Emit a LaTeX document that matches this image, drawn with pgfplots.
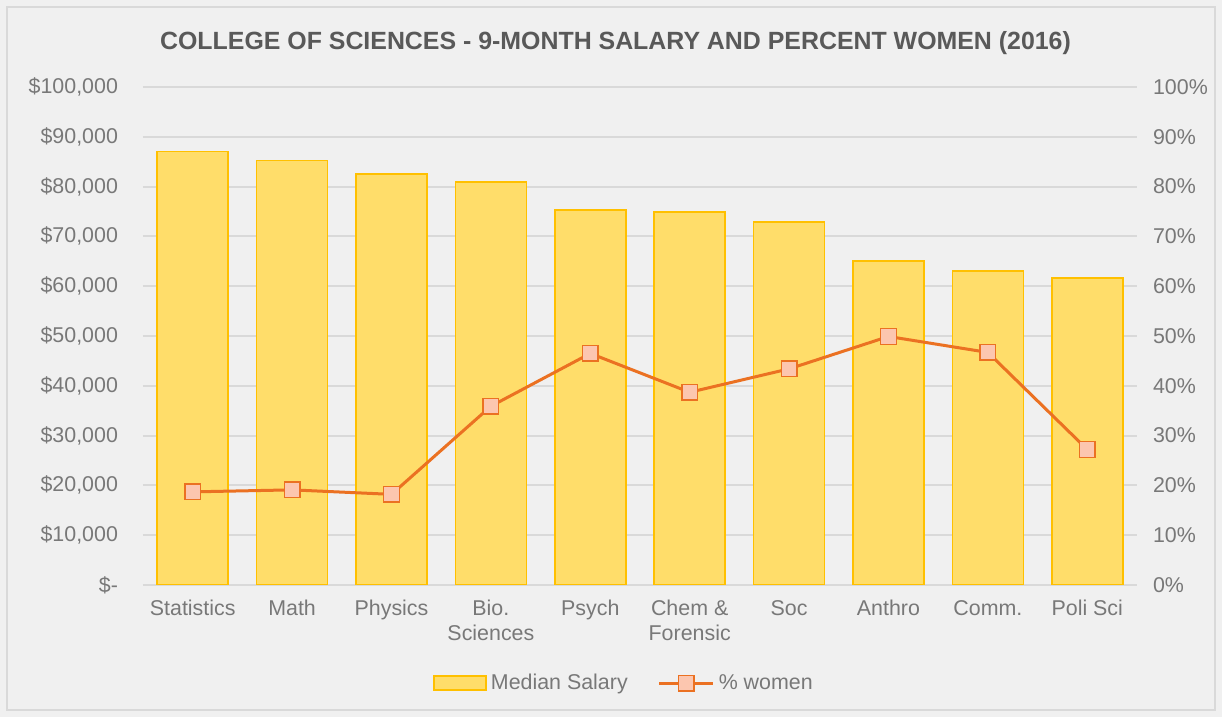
\documentclass[border=0pt]{standalone}
\usepackage{pgfplots}
\usepackage{pgfplotstable}
\pgfplotsset{compat=1.18}
\usepackage{fontspec}
\setmainfont{Liberation Sans}
\definecolor{bg}{HTML}{F0F0F0}
\definecolor{gridc}{HTML}{D9D9D9}
\definecolor{txt}{HTML}{787878}
\definecolor{ttl}{HTML}{595959}
\definecolor{barfill}{HTML}{FFDD6A}
\definecolor{baredge}{HTML}{FFC000}
\definecolor{lineor}{HTML}{EB7122}
\definecolor{markfill}{HTML}{FCC6AF}

\pgfplotstableread{
x sal pct
0 87000 18.7
1 85200 19.1
2 82500 18.2
3 80900 35.9
4 75300 46.5
5 74900 38.7
6 72900 43.4
7 65100 49.9
8 63100 46.7
9 61600 27.2
}\data

\pgfplotsset{common/.style={at={(71.5pt,66pt)}, anchor=south west, scale only axis,
  width=497pt, height=249pt, xmin=-0.5, xmax=9.5,
  axis line style={draw=none}, major tick length=0pt,
  scaled y ticks=false, scaled x ticks=false,
  tick label style={font=\fontsize{10.7}{12.5}\selectfont, text=txt}},
  barlegend/.style={legend image code/.code={\draw[##1] (0pt,-3.5pt) rectangle (26pt,3.5pt);}},
  linelegend/.style={legend image code/.code={\draw[mark repeat=2,mark phase=2,##1] plot coordinates {(0pt,0pt) (13.5pt,0pt) (27pt,0pt)};}},
}

\begin{document}
\begin{tikzpicture}[x=1pt,y=1pt]
\fill[bg] (0,0) rectangle (611,358.5);
\path[use as bounding box] (0,0) rectangle (611,358.5);
\draw[gridc, line width=1pt] (3.5,3.5) rectangle (607.5,355);

\begin{axis}[common,
  ymin=0, ymax=100000,
  ytick={0,10000,...,100000},
  yticklabels={{\$-},{\$10,000},{\$20,000},{\$30,000},{\$40,000},{\$50,000},{\$60,000},{\$70,000},{\$80,000},{\$90,000},{\$100,000}},
  ymajorgrids, grid style={gridc, line width=1pt},
  xtick={0,...,9},
  xticklabels={Statistics, Math, Physics, {Bio.\\Sciences}, Psych, {Chem \&\\Forensic}, Soc, Anthro, Comm., Poli Sci},
  xticklabel style={align=center, yshift=-4pt},
  yticklabel style={xshift=-9pt},
  bar width=35.5pt,
  legend style={at={(0.485,-0.197)}, anchor=center, draw=none, fill=none,
    legend columns=2, font=\fontsize{10.7}{12.5}\selectfont, text=txt,
    /tikz/every even column/.append style={column sep=13pt}},
]
\addplot[ybar, fill=barfill, draw=baredge, line width=0.75pt, barlegend]
  table[x=x, y=sal]{\data};
\addlegendentry{Median Salary}
\addlegendimage{lineor, line width=1.5pt, mark=square*, mark size=3.9pt,
  mark options={fill=markfill, draw=lineor, line width=0.75pt}, linelegend}
\addlegendentry{\% women}
\end{axis}

\begin{axis}[common,
  ymin=0, ymax=100,
  axis y line*=right, axis x line=none, xtick=\empty,
  ytick={0,10,...,100},
  yticklabels={0\%,10\%,20\%,30\%,40\%,50\%,60\%,70\%,80\%,90\%,100\%},
  yticklabel style={xshift=4.5pt},
]
\addplot[lineor, line width=1.5pt, mark=square*, mark size=3.9pt,
  mark options={fill=markfill, draw=lineor, line width=0.75pt}]
  table[x=x, y=pct]{\data};
\end{axis}

\node[font=\fontsize{12.45}{15}\selectfont\bfseries, text=ttl, anchor=base] at (307.75,333.5)
  {COLLEGE OF SCIENCES - 9-MONTH SALARY AND PERCENT WOMEN (2016)};
\end{tikzpicture}
\end{document}
